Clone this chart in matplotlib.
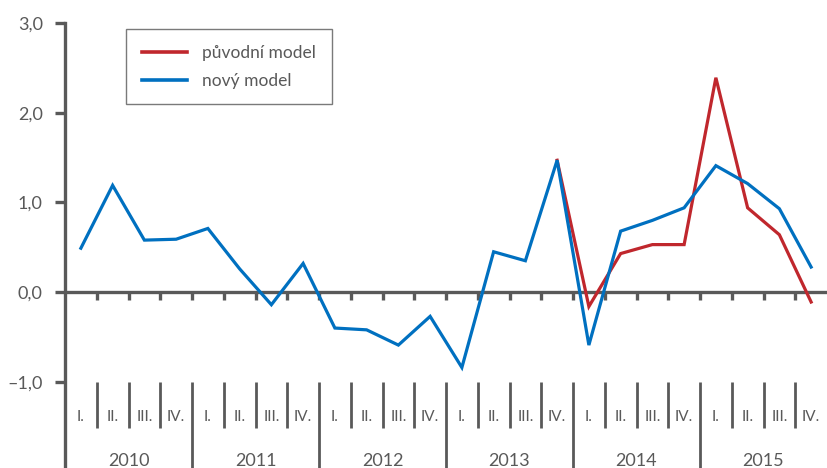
import matplotlib
matplotlib.use("Agg")
import matplotlib.pyplot as plt
import numpy as np

years = ["2010", "2011", "2012", "2013", "2014", "2015"]
quarters = ["I.", "II.", "III.", "IV."]

novy = [0.49, 1.19, 0.58, 0.59,
        0.71, 0.26, -0.14, 0.32,
        -0.40, -0.42, -0.59, -0.27,
        -0.84, 0.45, 0.35, 1.47,
        -0.59, 0.68, 0.80, 0.94,
        1.41, 1.21, 0.93, 0.28]
puvodni = [None] * 15 + [1.47,
           -0.16, 0.43, 0.53, 0.53,
           2.39, 0.94, 0.64, -0.11]

yticks = [-1.0, 0.0, 1.0, 2.0, 3.0]
ytick_labels = ["\u20131,0", "0,0", "1,0", "2,0", "3,0"]

GRAY = "#595959"
RED = "#C0272D"
BLUE = "#0070C0"
plt.rcParams["font.family"] = ["Lato", "DejaVu Sans"]

W, H = 827, 468
fig = plt.figure(figsize=(W / 100, H / 100), dpi=100)
ax = fig.add_axes([65 / W, 0, 762 / W, 445 / H])

n = len(novy)
x = np.arange(n) + 0.5
ymin, ymax = -1.96, 3.0
ax.set_xlim(0, n)
ax.set_ylim(ymin, ymax)

px = (ymax - ymin) / 445.0  # data units per pixel

pv = np.array([np.nan if v is None else v for v in puvodni], dtype=float)
l1, = ax.plot(x, pv, color=RED, lw=2.3, label="původní model", zorder=3,
              solid_joinstyle="miter")
l2, = ax.plot(x, novy, color=BLUE, lw=2.3, label="nový model", zorder=4,
              solid_joinstyle="miter")

# axes styling
for s in ["top", "right", "bottom"]:
    ax.spines[s].set_visible(False)
ax.spines["left"].set_color(GRAY)
ax.spines["left"].set_linewidth(2.4)
ax.spines["left"].set_bounds(ymin, ymax)
ax.set_xticks([])
ax.set_yticks(yticks)
ax.set_yticklabels(ytick_labels)
ax.tick_params(axis="y", length=7, width=2.4, color=GRAY, pad=9,
               labelsize=13, labelcolor=GRAY)

# zero line and quarter ticks
ax.axhline(0, color=GRAY, lw=2.4, zorder=2)
bounds = np.arange(1, n)
ax.vlines(bounds, -8 * px, 0, color=GRAY, lw=2.4, zorder=2)

# category separators
q_top = -1.0
q_bot = -1.0 - 46 * px
for b in bounds:
    if b % 4 == 0:
        ax.vlines(b, ymin, q_top, color=GRAY, lw=2.0, clip_on=False)
    else:
        ax.vlines(b, q_bot, q_top, color=GRAY, lw=2.0, clip_on=False)

q_y = -1.0 - 35 * px
for i in range(n):
    ax.text(i + 0.5, q_y, quarters[i % 4], ha="center", va="center",
            fontsize=11, color=GRAY)
y_y = -1.0 - 79 * px
for j, yr in enumerate(years):
    ax.text(j * 4 + 2, y_y, yr, ha="center", va="center",
            fontsize=13, color=GRAY)

leg = fig.legend(handles=[l1, l2], loc="upper left",
                 bbox_to_anchor=(126 / W, 1 - 29 / H),
                 frameon=True, fancybox=False, edgecolor=GRAY,
                 fontsize=12.5, handlelength=2.6, handletextpad=0.9,
                 borderpad=0.9, labelspacing=0.7, borderaxespad=0)
leg.get_frame().set_linewidth(1.0)
for t in leg.get_texts():
    t.set_color(GRAY)
for h in leg.get_lines():
    h.set_linewidth(2.6)

fig.savefig("out.png", dpi=100)
